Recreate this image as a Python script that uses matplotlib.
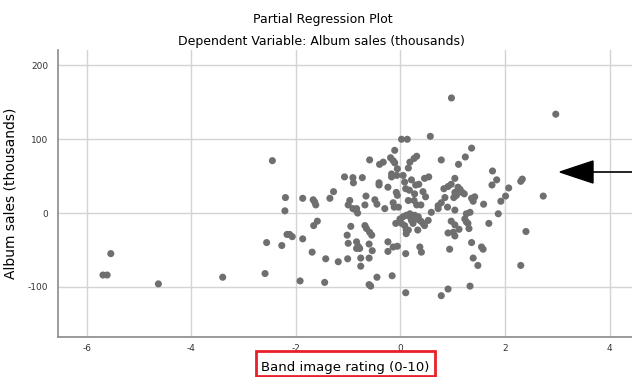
import matplotlib
matplotlib.use("Agg")
import matplotlib.pyplot as plt
from matplotlib.patches import Polygon, Rectangle
from matplotlib.lines import Line2D

plt.rcParams['font.family'] = ['DejaVu Sans']
plt.rcParams['axes.unicode_minus'] = False

# residuals: band image rating (x) vs album sales (y), both partialled
band_image = [
    -5.69, -5.61, -5.54, -4.63, -3.40, -2.59, -2.56, -2.45, -2.27, -2.20, -2.21,
    -2.17, -2.12, -2.07, -1.92, -1.87, -1.87, -1.69, -1.67, -1.64, -1.62, -1.66,
    -1.59, -1.45,
    0.02, 0.13, -0.11, -0.59, -0.40, -0.33, -0.19, -0.14, -0.11, -0.06, -0.17,
    -0.17, -0.07, 0.05, -1.07, -0.91, -0.90, -0.73, -0.41, -0.41, -0.24, 0.08,
    -0.08, -0.06, -1.28, -1.35, -0.97, -1.00, -0.66, -0.68, -0.49, -0.45, -0.91,
    -0.84, -0.30, -0.14, -0.12, -0.04,
    0.57, 1.36, 1.24, 0.78, 1.11, 0.31, 0.26, 0.18, 0.15, 1.76, 1.84, 1.75,
    2.07, 2.01, 1.92, 0.21, 0.46, 0.54, 0.29, 0.35, 0.43, 0.10, 1.04, 0.97,
    0.91, 0.83, 1.10, 1.14, 1.18, 1.22, 1.04, 1.07, 1.02, 0.85, 0.48, 0.15,
    0.26, 0.31, 0.39, 0.72, 0.78, 0.90, 1.36, 1.42, 1.39, 1.59, 0.975, 2.97,
    0.17, 0.27,
    -1.43, -1.19, -1.01, -1.02, -1.00, -0.95, -0.84, -0.81, -0.84, -0.78, -0.76,
    -0.76, -0.68, -0.65, -0.59, -0.55, -0.60, -0.54, -0.60, -0.45, -0.60, -0.57,
    -0.24, -0.24, -0.14, -0.06, -0.16, 0.10, 0.10, -0.01, 0.05, 0.11, 0.02,
    0.08, 0.11, -0.09, -0.85, -0.82,
    0.18, 0.27, 0.31, 0.35, 0.39, 0.46, 0.53, 0.21, 0.15, 0.11, 0.33, 0.37,
    0.40, 0.59, 0.72, 1.04, 1.26, 1.33, 1.23, 1.26, 1.29, 1.31, 0.97, 1.04,
    1.12, 0.91, 1.01, 1.04, 0.94, 1.36, 1.55, 1.58, 1.39, 1.48, 1.69, 1.87,
    0.78, 0.91, 1.33, 0.24, 0.43, 0.18, 0.34,
    2.30, 2.33, 2.73, 2.40, 2.30,
]
album_sales = [
    -84, -84, -55, -96, -87, -82, -40, 71, -44, 21, 3,
    -29, -29, -32, -92, 20, -35, -53, 18, 15, 11, -17,
    -11, -94,
    100, 100, 85, 72, 66, 69, 75, 71, 68, 60, 53,
    49, 51, 51, 49, 48, 41, 48, 41, 38, 35, 42,
    28, 24, 29, 20, 17, 11, 23, 11, 18, 12, 6,
    6, 6, 14, 8, 8,
    104, 88, 76, 72, 66, 77, 74, 69, 61, 57, 45, 38,
    34, 23, 16, 45, 47, 49, 38, 39, 29, 33, 47, 39,
    36, 33, 35, 32, 28, 26, 28, 24, 21, 21, 22, 17,
    17, 11, 11, 10, 14, 8, 20, 22, 16, 12, 156, 134,
    31, 26,
    -62, -66, -62, -30, -41, -18, -39, -45, -48, -48, -61,
    -72, -17, -21, -26, -30, -42, -51, -61, -87, -97, -99,
    -39, -52, -46, -45, -85, -108, -55, -8, -5, -3, -14,
    -17, -23, -14, 4, 0,
    -1, -3, -7, -9, -11, -17, -10, -10, -23, -28, -23, -46,
    -53, 1, 6, 4, -1, 1, -8, -12, -14, -21, -11, -16,
    -22, -27, -26, -31, -49, -40, -46, -49, -61, -71, -14, -1,
    -112, -103, -99, -14, -14, -5, -5,
    43, 46, 23, -25, -71,
]

x_ticks = [-6, -4, -2, 0, 2, 4]
y_ticks = [-100, 0, 100, 200]

W, H = 632, 377
fig = plt.figure(figsize=(W / 100, H / 100), dpi=100)
ax = fig.add_axes([58 / W, 40 / H, 583 / W, 287 / H])

ax.scatter(band_image, album_sales, s=26, color='#6f6f6f', edgecolors='none', zorder=3)

ax.set_xlim(-6.55, 4.6)
ax.set_ylim(-168, 221)
ax.set_xticks(x_ticks)
ax.set_yticks(y_ticks)
ax.tick_params(length=0, labelsize=6.5, colors='#333333')
ax.tick_params(axis='x', pad=5)
ax.tick_params(axis='y', pad=7)
ax.grid(True, color='#d4d4d4', linewidth=1.0, zorder=0)
for side in ['top', 'right']:
    ax.spines[side].set_visible(False)
for side in ['left', 'bottom']:
    ax.spines[side].set_color('#8a8a8a')
    ax.spines[side].set_linewidth(1.2)

ax.set_ylabel('Album sales (thousands)', fontsize=10)
ax.yaxis.set_label_coords(-40 / 583, 0.5)

fig.text(323 / W, 1 - 19 / H, 'Partial Regression Plot', ha='center', va='center', fontsize=9)
fig.text(321 / W, 1 - 41 / H, 'Dependent Variable: Album sales (thousands)',
         ha='center', va='center', fontsize=9)
fig.text(345 / W, 1 - 367 / H, 'Band image rating (0-10)', ha='center', va='center', fontsize=9.5)

# red box around x label
fig.patches.append(Rectangle((256 / W, 1 / H), 179 / W, 25 / H, transform=fig.transFigure,
                             fill=False, edgecolor='#e8202a', linewidth=2))

# arrow pointing at the cloud
fig.patches.append(Polygon([(560 / W, 1 - 172 / H), (593 / W, 1 - 161 / H), (593 / W, 1 - 183 / H)],
                           closed=True, transform=fig.transFigure, facecolor='black', edgecolor='black'))
fig.lines.append(Line2D([593 / W, 1.0], [1 - 172 / H, 1 - 172 / H], transform=fig.transFigure,
                        color='black', linewidth=1.2))

fig.savefig('out.png', dpi=100)
